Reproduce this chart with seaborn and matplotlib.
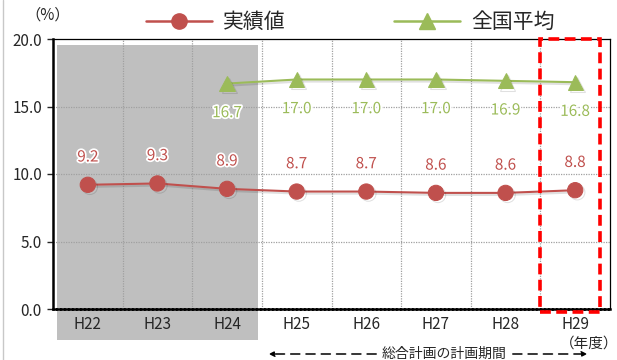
import matplotlib
matplotlib.use("Agg")
import matplotlib.pyplot as plt
import matplotlib.patches as mpatches
import matplotlib.patheffects as pe
from matplotlib.lines import Line2D
import numpy as np
import pandas as pd
import seaborn as sns

# Data
years = ["H22", "H23", "H24", "H25", "H26", "H27", "H28", "H29"]
actual = [9.2, 9.3, 8.9, 8.7, 8.7, 8.6, 8.6, 8.8]
national = [np.nan, np.nan, 16.7, 17.0, 17.0, 17.0, 16.9, 16.8]
y_ticks = [0.0, 5.0, 10.0, 15.0, 20.0]

RED = "#C0504D"
GREEN = "#9BBB59"

sns.set_style("white")
plt.rcParams["font.family"] = ["Noto Sans CJK JP", "DejaVu Sans"]

df = pd.DataFrame({"idx": np.arange(len(years)), "year": years,
                   "actual": actual, "national": national})

fig = plt.figure(figsize=(6.17, 3.60), dpi=100)
ax = fig.add_axes([53 / 617, 1 - 309 / 360, 557 / 617, 270 / 360])

shadow = [pe.SimpleLineShadow(offset=(1.5, -1.5), shadow_color="black", alpha=0.12), pe.Normal()]

sns.lineplot(data=df, x="idx", y="actual", ax=ax, color=RED, marker="o",
             markersize=11, markeredgecolor=RED, linewidth=1.5, zorder=5,
             path_effects=shadow)
sns.lineplot(data=df.dropna(), x="idx", y="national", ax=ax, color=GREEN, marker="^",
             markersize=11, markeredgecolor=GREEN, linewidth=1.5, zorder=5,
             path_effects=shadow)

ax.set_xlim(-0.5, len(years) - 0.5)
ax.set_ylim(0, 20)
ax.set_yticks(y_ticks)
ax.set_yticklabels([f"{v:.1f}" for v in y_ticks], fontsize=11)
ax.set_xticks(np.arange(len(years)))
ax.set_xticklabels(years, fontsize=11)
ax.set_xlabel("")
ax.set_ylabel("")
ax.tick_params(axis="x", length=0, pad=5)
ax.tick_params(axis="y", length=4, width=1, direction="out", pad=4, left=True)

# Grid: dotted lines at category boundaries and value steps
for xb in np.arange(0.5, len(years) - 0.5, 1.0):
    ax.axvline(xb, color="#A0A0A0", linestyle=(0, (1, 1)), linewidth=0.9, zorder=1)
for yv in [5, 10, 15]:
    ax.axhline(yv, color="#A0A0A0", linestyle=(0, (1, 1)), linewidth=0.9, zorder=1)

for side in ["left", "bottom"]:
    ax.spines[side].set_linewidth(1.8)
    ax.spines[side].set_color("black")
for side in ["top", "right"]:
    ax.spines[side].set_linewidth(0.9)
    ax.spines[side].set_color("black")
ax.spines["bottom"].set_linestyle((0, (1, 0.6)))

# Gray band for the years before the plan period
ax.add_patch(mpatches.Rectangle((-0.44, -2.3), 2.89, 21.85, facecolor="#BFBFBF",
                                edgecolor="none", clip_on=False, zorder=0))

# Highlight of the latest year
ax.add_patch(mpatches.Rectangle((6.5, -0.2), 0.86, 20.2, facecolor="none",
                                edgecolor="#FF0000", linewidth=2.6,
                                linestyle=(0, (3, 1.5)), clip_on=False, zorder=6))

# Value labels
glow = [pe.withStroke(linewidth=2.5, foreground="white")]
for i, v in enumerate(actual):
    ax.annotate(f"{v:.1f}", (i, v), xytext=(0, 20), textcoords="offset points",
                ha="center", va="center", fontsize=11, color=RED,
                path_effects=glow, zorder=7)
for i, v in enumerate(national):
    if np.isnan(v):
        continue
    ax.annotate(f"{v:.1f}", (i, v), xytext=(0, -21), textcoords="offset points",
                ha="center", va="center", fontsize=11, color=GREEN,
                path_effects=glow, zorder=7)

# Legend
handles = [Line2D([], [], color=RED, marker="o", markersize=11, linewidth=1.8),
           Line2D([], [], color=GREEN, marker="^", markersize=11, linewidth=1.8)]
fig.legend(handles, ["実績値", "全国平均"], loc="center", bbox_to_anchor=(350 / 617, 1 - 22 / 360),
           ncol=2, frameon=False, fontsize=15, handlelength=3.2, columnspacing=5.2,
           handletextpad=0.5)

# Unit labels
fig.text(48 / 617, 1 - 15 / 360, "（%）", ha="center", va="center", fontsize=11)
fig.text(589 / 617, 1 - 344 / 360, "（年度）", ha="center", va="center", fontsize=10.5)

# Plan period arrow
yarr = 1 - 354 / 360
fig.text(444 / 617, yarr, "総合計画の計画期間", ha="center", va="center", fontsize=10)
arrow_kw = dict(arrowstyle="-|>", color="black", linewidth=1.1, linestyle=(0, (6, 4)),
                mutation_scale=8)
fig.patches.append(mpatches.FancyArrowPatch((379 / 617, yarr), (266 / 617, yarr),
                                            transform=fig.transFigure, **arrow_kw))
fig.patches.append(mpatches.FancyArrowPatch((510 / 617, yarr), (590 / 617, yarr),
                                            transform=fig.transFigure, **arrow_kw))

# Thin frame line at the left edge
fig.add_artist(Line2D([3 / 617, 3 / 617], [0, 1], transform=fig.transFigure,
                      color="#C8C8C8", linewidth=1))

fig.savefig("out.png", dpi=100)
